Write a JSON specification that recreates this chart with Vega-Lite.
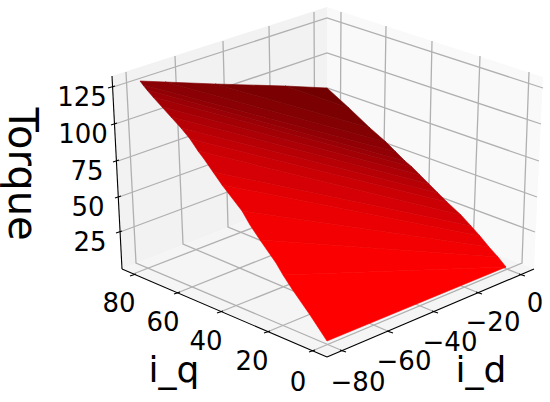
{"$schema":"https://vega.github.io/schema/vega-lite/v6.json","width":550,"height":402,"padding":0,"autosize":"none","background":"white","config":{"view":{"stroke":null}},"projection":{"type":"identity","scale":1,"translate":[0,0]},"layer":[
{"data":{"values":[
{"type":"Feature","properties":{"pane":"i_d wall"},"geometry":{"type":"Polygon","coordinates":[[[112,76],[327,7],[327,189],[122,269],[112,76]]]}},
{"type":"Feature","properties":{"pane":"i_q wall"},"geometry":{"type":"Polygon","coordinates":[[[327,7],[543,77],[534,269],[327,189],[327,7]]]}},
{"type":"Feature","properties":{"pane":"floor"},"geometry":{"type":"Polygon","coordinates":[[[122,269],[327,189],[534,269],[327,357],[122,269]]]}}
]},"mark":{"type":"geoshape","strokeWidth":0},"encoding":{"color":{"field":"properties.pane","type":"nominal","legend":null,"scale":{"domain":["i_d wall","i_q wall","floor"],"range":["#f2f2f2","#f9f9f9","#f5f5f5"]}}}},
{"data":{"values":[
{"type":"Feature","properties":{"g":"z125"},"geometry":{"type":"LineString","coordinates":[[113,87],[327,18],[543,88]]}},
{"type":"Feature","properties":{"g":"z100"},"geometry":{"type":"LineString","coordinates":[[115,124],[327,53],[541,124]]}},
{"type":"Feature","properties":{"g":"z75"},"geometry":{"type":"LineString","coordinates":[[118,161],[327,88],[539,161]]}},
{"type":"Feature","properties":{"g":"z50"},"geometry":{"type":"LineString","coordinates":[[119,197],[327,122],[537,197]]}},
{"type":"Feature","properties":{"g":"z25"},"geometry":{"type":"LineString","coordinates":[[120,232],[327,155],[535,232]]}},
{"type":"Feature","properties":{"g":"d-80"},"geometry":{"type":"LineString","coordinates":[[126,72],[136,263],[343,351]]}},
{"type":"Feature","properties":{"g":"d-60"},"geometry":{"type":"LineString","coordinates":[[175,56],[183,244],[390,332]]}},
{"type":"Feature","properties":{"g":"d-40"},"geometry":{"type":"LineString","coordinates":[[223,41],[228,227],[435,312]]}},
{"type":"Feature","properties":{"g":"d-20"},"geometry":{"type":"LineString","coordinates":[[269,26],[272,210],[479,293]]}},
{"type":"Feature","properties":{"g":"d0"},"geometry":{"type":"LineString","coordinates":[[314,12],[315,194],[522,275]]}},
{"type":"Feature","properties":{"g":"q80"},"geometry":{"type":"LineString","coordinates":[[341,12],[340,194],[133,274]]}},
{"type":"Feature","properties":{"g":"q60"},"geometry":{"type":"LineString","coordinates":[[386,26],[383,211],[177,293]]}},
{"type":"Feature","properties":{"g":"q40"},"geometry":{"type":"LineString","coordinates":[[432,41],[428,229],[220,312]]}},
{"type":"Feature","properties":{"g":"q20"},"geometry":{"type":"LineString","coordinates":[[480,56],[473,247],[267,332]]}},
{"type":"Feature","properties":{"g":"q0"},"geometry":{"type":"LineString","coordinates":[[529,72],[522,263],[312,351]]}}
]},"mark":{"type":"geoshape","filled":false,"stroke":"#b0b0b0","strokeWidth":1.3}},
{"data":{"values":[
{"type":"Feature","properties":{"light":255},"geometry":{"type":"Polygon","coordinates":[[[283,275],[506,267],[327,341],[310,315],[292,289],[283,275]]]}},
{"type":"Feature","properties":{"light":251},"geometry":{"type":"Polygon","coordinates":[[[260,240],[498,257],[506,267],[283,275],[276,263],[260,240]]]}},
{"type":"Feature","properties":{"light":244},"geometry":{"type":"Polygon","coordinates":[[[242,211],[489,247],[498,257],[260,240],[250,225],[242,211]]]}},
{"type":"Feature","properties":{"light":235},"geometry":{"type":"Polygon","coordinates":[[[222,185],[480,236],[489,247],[242,211],[222,185]]]}},
{"type":"Feature","properties":{"light":225},"geometry":{"type":"Polygon","coordinates":[[[213,172],[471,226],[480,236],[222,185],[213,172]]]}},
{"type":"Feature","properties":{"light":215},"geometry":{"type":"Polygon","coordinates":[[[198,151],[461,215],[471,226],[213,172],[204,159],[198,151]]]}},
{"type":"Feature","properties":{"light":205},"geometry":{"type":"Polygon","coordinates":[[[190,139],[447,202],[461,215],[198,151],[190,139]]]}},
{"type":"Feature","properties":{"light":195},"geometry":{"type":"Polygon","coordinates":[[[181,128],[438,193],[447,202],[190,139],[181,128]]]}},
{"type":"Feature","properties":{"light":185},"geometry":{"type":"Polygon","coordinates":[[[171,117],[429,184],[438,193],[181,128],[171,117]]]}},
{"type":"Feature","properties":{"light":175},"geometry":{"type":"Polygon","coordinates":[[[162,107],[420,175],[429,184],[171,117],[162,107]]]}},
{"type":"Feature","properties":{"light":165},"geometry":{"type":"Polygon","coordinates":[[[153,97],[412,167],[420,175],[162,107],[153,97]]]}},
{"type":"Feature","properties":{"light":156},"geometry":{"type":"Polygon","coordinates":[[[147,90],[405,161],[412,167],[153,97],[147,90]]]}},
{"type":"Feature","properties":{"light":148},"geometry":{"type":"Polygon","coordinates":[[[143,85],[396,152],[405,161],[147,90],[143,85]]]}},
{"type":"Feature","properties":{"light":140},"geometry":{"type":"Polygon","coordinates":[[[140,81],[165,82],[386,142],[396,152],[143,85],[140,81]]]}},
{"type":"Feature","properties":{"light":132},"geometry":{"type":"Polygon","coordinates":[[[165,82],[215,84],[370,128],[386,142],[165,82]]]}},
{"type":"Feature","properties":{"light":124},"geometry":{"type":"Polygon","coordinates":[[[215,84],[285,86],[349,108],[370,128],[215,84]]]}},
{"type":"Feature","properties":{"light":114},"geometry":{"type":"Polygon","coordinates":[[[285,86],[327,88],[349,108],[285,86]]]}}
]},"mark":{"type":"geoshape","strokeWidth":0.6},"encoding":{"color":{"field":"properties.light","type":"quantitative","legend":null,"scale":{"domain":[112,255],"range":["#700000","#ff0000"]}},"stroke":{"field":"properties.light","type":"quantitative","legend":null,"scale":{"domain":[112,255],"range":["#700000","#ff0000"]}}}},
{"data":{"values":[
{"type":"Feature","properties":{"a":"z"},"geometry":{"type":"LineString","coordinates":[[112,76],[122,269]]}},
{"type":"Feature","properties":{"a":"q"},"geometry":{"type":"LineString","coordinates":[[122,269],[327,357]]}},
{"type":"Feature","properties":{"a":"d"},"geometry":{"type":"LineString","coordinates":[[327,357],[534,269]]}},
{"type":"Feature","properties":{"a":"t125"},"geometry":{"type":"LineString","coordinates":[[108,88],[115,86]]}},
{"type":"Feature","properties":{"a":"t100"},"geometry":{"type":"LineString","coordinates":[[111,125],[117,123]]}},
{"type":"Feature","properties":{"a":"t75"},"geometry":{"type":"LineString","coordinates":[[113,162],[119,160]]}},
{"type":"Feature","properties":{"a":"t50"},"geometry":{"type":"LineString","coordinates":[[115,198],[121,196]]}},
{"type":"Feature","properties":{"a":"t25"},"geometry":{"type":"LineString","coordinates":[[116,233],[122,231]]}},
{"type":"Feature","properties":{"a":"q80"},"geometry":{"type":"LineString","coordinates":[[130,276],[136,274]]}},
{"type":"Feature","properties":{"a":"q60"},"geometry":{"type":"LineString","coordinates":[[174,294],[180,292]]}},
{"type":"Feature","properties":{"a":"q40"},"geometry":{"type":"LineString","coordinates":[[217,313],[223,311]]}},
{"type":"Feature","properties":{"a":"q20"},"geometry":{"type":"LineString","coordinates":[[264,333],[270,331]]}},
{"type":"Feature","properties":{"a":"q0"},"geometry":{"type":"LineString","coordinates":[[309,352],[315,350]]}},
{"type":"Feature","properties":{"a":"d-80"},"geometry":{"type":"LineString","coordinates":[[340,350],[346,352]]}},
{"type":"Feature","properties":{"a":"d-60"},"geometry":{"type":"LineString","coordinates":[[387,331],[393,333]]}},
{"type":"Feature","properties":{"a":"d-40"},"geometry":{"type":"LineString","coordinates":[[432,311],[438,313]]}},
{"type":"Feature","properties":{"a":"d-20"},"geometry":{"type":"LineString","coordinates":[[476,292],[482,294]]}},
{"type":"Feature","properties":{"a":"d0"},"geometry":{"type":"LineString","coordinates":[[519,274],[525,276]]}}
]},"mark":{"type":"geoshape","filled":false,"stroke":"#000000","strokeWidth":1.1}},
{"data":{"values":[
{"lon":82,"lat":98,"label":"125"},{"lon":83,"lat":135,"label":"100"},{"lon":87,"lat":172,"label":"75"},{"lon":88,"lat":208,"label":"50"},{"lon":90,"lat":243,"label":"25"},
{"lon":119,"lat":304,"label":"80"},{"lon":163,"lat":323,"label":"60"},{"lon":206,"lat":342,"label":"40"},{"lon":252,"lat":362,"label":"20"},{"lon":298,"lat":383,"label":"0"},
{"lon":358,"lat":383,"label":"−80"},{"lon":404,"lat":362,"label":"−60"},{"lon":450,"lat":343,"label":"−40"},{"lon":493,"lat":323,"label":"−20"},{"lon":535,"lat":304,"label":"0"}
]},"mark":{"type":"text","font":"DejaVu Sans","fontSize":26,"align":"center","baseline":"middle","color":"#000000"},"encoding":{"longitude":{"field":"lon","type":"quantitative"},"latitude":{"field":"lat","type":"quantitative"},"text":{"field":"label","type":"nominal"}}},
{"data":{"values":[{"lon":174,"lat":382,"label":"i_q"},{"lon":481,"lat":382,"label":"i_d"}]},"mark":{"type":"text","font":"DejaVu Sans","fontSize":36,"align":"center","baseline":"alphabetic","color":"#000000"},"encoding":{"longitude":{"field":"lon","type":"quantitative"},"latitude":{"field":"lat","type":"quantitative"},"text":{"field":"label","type":"nominal"}}},
{"data":{"values":[{"lon":9,"lat":174,"label":"Torque"}]},"mark":{"type":"text","font":"DejaVu Sans","fontSize":40,"align":"center","baseline":"alphabetic","angle":90,"color":"#000000"},"encoding":{"longitude":{"field":"lon","type":"quantitative"},"latitude":{"field":"lat","type":"quantitative"},"text":{"field":"label","type":"nominal"}}}
]}
